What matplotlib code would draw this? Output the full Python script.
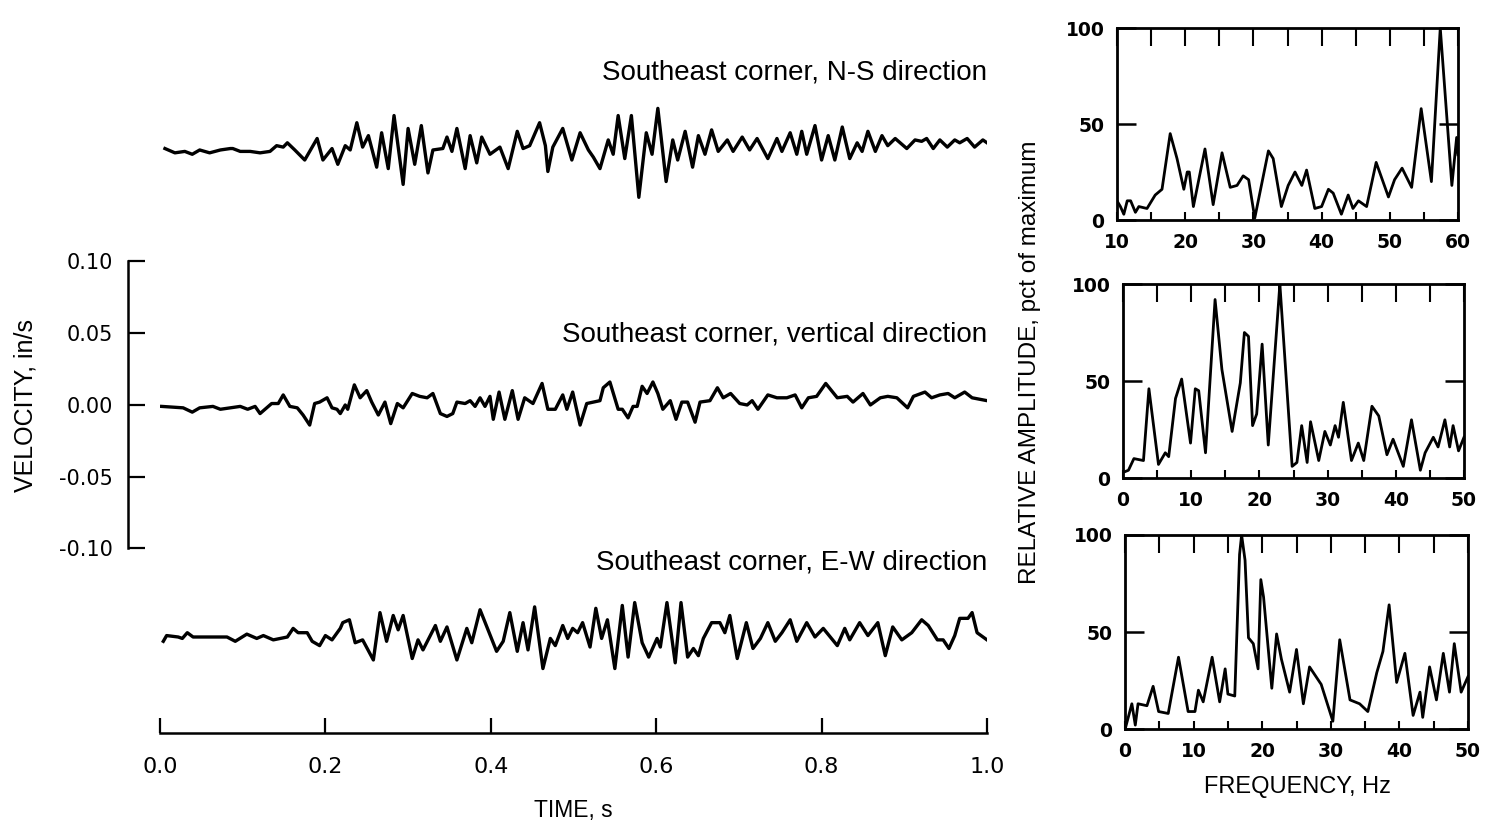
import matplotlib
matplotlib.use('Agg')
import matplotlib.pyplot as plt
import numpy as np
from matplotlib.ticker import MultipleLocator, FormatStrFormatter

plt.rcParams['font.family'] = ['Liberation Sans', 'DejaVu Sans']

# velocity records: (time s, velocity in 0.001 in/s)
ns_trace = [(0.006, 1), (0.018, -2), (0.030, -1), (0.039, -3), (0.048, 0), (0.060, -2), (0.073, 0),
            (0.085, 1), (0.088, 1), (0.097, -1), (0.109, -1), (0.121, -2), (0.133, -1), (0.141, 3),
            (0.149, 2), (0.154, 5), (0.163, 0), (0.175, -7), (0.181, -1), (0.190, 8), (0.197, -7),
            (0.208, 1), (0.215, -10), (0.224, 3), (0.230, 0), (0.238, 19), (0.245, 2), (0.252, 10),
            (0.262, -12), (0.268, 12), (0.276, -13), (0.283, 24), (0.294, -24), (0.300, 15),
            (0.308, -10), (0.316, 17), (0.324, -16), (0.330, 0), (0.342, 1), (0.347, 9), (0.353, -1),
            (0.359, 15), (0.369, -13), (0.375, 10), (0.383, -9), (0.389, 9), (0.399, -3), (0.411, 2),
            (0.421, -13), (0.432, 13), (0.439, 1), (0.447, 3), (0.459, 19), (0.466, 3), (0.469, -15),
            (0.475, 2), (0.487, 15), (0.498, -7), (0.508, 12), (0.518, 0), (0.524, -5), (0.532, -13),
            (0.542, 7), (0.548, -3), (0.554, 24), (0.562, -6), (0.570, 24), (0.579, -33), (0.588, 12),
            (0.595, -3), (0.602, 29), (0.612, -22), (0.620, 7), (0.626, -7), (0.635, 13), (0.644, -12),
            (0.651, 10), (0.659, -3), (0.667, 14), (0.675, -1), (0.686, 7), (0.693, -1), (0.704, 9),
            (0.713, 0), (0.722, 8), (0.735, -6), (0.746, 8), (0.752, -1), (0.762, 12), (0.770, -3),
            (0.776, 13), (0.782, -3), (0.792, 17), (0.800, -7), (0.808, 10), (0.816, -7), (0.825, 16),
            (0.834, -6), (0.843, 5), (0.849, -1), (0.856, 13), (0.865, -1), (0.873, 10), (0.880, 3),
            (0.889, 8), (0.903, 1), (0.913, 7), (0.921, 6), (0.927, 8), (0.935, 1), (0.943, 7),
            (0.952, 2), (0.961, 7), (0.967, 5), (0.976, 8), (0.985, 2), (0.995, 7), (1.000, 5)]

vert_trace = [(0.002, -1), (0.028, -2), (0.039, -5), (0.048, -2), (0.064, -1), (0.073, -3), (0.085, -2),
              (0.097, -1), (0.106, -3), (0.115, -1), (0.121, -6), (0.127, -3), (0.135, 1), (0.143, 1),
              (0.149, 7), (0.157, -1), (0.166, -2), (0.173, -7), (0.181, -14), (0.187, 1), (0.193, 2),
              (0.202, 5), (0.208, -2), (0.214, -3), (0.218, -6), (0.224, 0), (0.227, -3), (0.235, 14),
              (0.242, 5), (0.250, 10), (0.256, 2), (0.264, -7), (0.272, 2), (0.279, -13), (0.287, 1),
              (0.294, -2), (0.305, 8), (0.314, 6), (0.323, 5), (0.330, 8), (0.339, -6), (0.347, -8),
              (0.354, -6), (0.359, 2), (0.369, 1), (0.375, 3), (0.381, -1), (0.387, 5), (0.393, -1),
              (0.399, 6), (0.403, -10), (0.410, 9), (0.417, -10), (0.426, 10), (0.433, -10), (0.441, 5),
              (0.451, 1), (0.462, 15), (0.469, -3), (0.478, -3), (0.487, 7), (0.492, -3), (0.499, 9),
              (0.508, -14), (0.516, 1), (0.524, 2), (0.532, 3), (0.536, 12), (0.544, 16), (0.554, -3),
              (0.559, -3), (0.566, -9), (0.572, -1), (0.577, -1), (0.583, 13), (0.589, 8), (0.596, 16),
              (0.602, 8), (0.608, -3), (0.617, 3), (0.624, -10), (0.631, 2), (0.638, 2), (0.647, -12),
              (0.653, 2), (0.665, 3), (0.674, 12), (0.681, 5), (0.690, 8), (0.701, 1), (0.710, 0),
              (0.716, 3), (0.723, -3), (0.735, 7), (0.746, 5), (0.758, 5), (0.768, 7), (0.776, -2),
              (0.784, 5), (0.794, 6), (0.805, 15), (0.819, 5), (0.831, 6), (0.838, 2), (0.850, 8),
              (0.859, 0), (0.871, 5), (0.880, 6), (0.891, 5), (0.904, -2), (0.911, 6), (0.925, 9),
              (0.933, 5), (0.943, 7), (0.953, 8), (0.961, 5), (0.973, 9), (0.982, 5), (1.000, 3)]

ew_trace = [(0.004, -3), (0.008, 1), (0.022, 0), (0.027, -1), (0.033, 3), (0.040, 0), (0.052, 0),
            (0.081, 0), (0.091, -3), (0.105, 2), (0.117, -1), (0.125, 1), (0.137, -2), (0.154, 0),
            (0.161, 6), (0.167, 3), (0.178, 3), (0.184, -3), (0.193, -6), (0.200, 1), (0.208, -2),
            (0.218, 6), (0.221, 10), (0.229, 12), (0.236, -4), (0.245, -2), (0.258, -16), (0.266, 17),
            (0.274, -3), (0.282, 15), (0.288, 5), (0.294, 15), (0.305, -15), (0.312, -2), (0.318, -9),
            (0.333, 8), (0.339, -3), (0.347, 7), (0.359, -16), (0.371, 6), (0.377, -4), (0.387, 19),
            (0.407, -10), (0.415, -3), (0.423, 17), (0.432, -10), (0.439, 10), (0.445, -9), (0.453, 21),
            (0.463, -22), (0.472, -1), (0.478, -6), (0.487, 8), (0.493, -1), (0.499, 6), (0.505, 3),
            (0.511, 10), (0.520, -7), (0.527, 20), (0.534, -1), (0.541, 12), (0.550, -22), (0.559, 22),
            (0.566, -14), (0.574, 24), (0.583, -4), (0.591, -14), (0.601, -1), (0.605, -7), (0.613, 24),
            (0.623, -18), (0.630, 24), (0.638, -14), (0.645, -8), (0.651, -13), (0.657, -1), (0.667, 10),
            (0.677, 10), (0.683, 3), (0.689, 15), (0.698, -15), (0.709, 10), (0.717, -8), (0.726, -1),
            (0.735, 10), (0.744, -3), (0.752, 3), (0.762, 12), (0.770, -3), (0.782, 10), (0.792, 0),
            (0.802, 6), (0.819, -6), (0.828, 6), (0.834, -2), (0.846, 10), (0.856, 1), (0.868, 10),
            (0.877, -13), (0.886, 7), (0.897, -2), (0.909, 3), (0.921, 12), (0.929, 8), (0.940, -2),
            (0.947, -2), (0.954, -8), (0.961, 1), (0.967, 13), (0.977, 13), (0.982, 17), (0.988, 3),
            (1.000, -2)]

# Fourier spectra: (frequency Hz, relative amplitude %)
ns_spec = [(10, 10), (10.5, 7), (11, 3), (11.5, 10), (12, 10), (12.7, 4), (13.2, 7), (14.4, 6), (15.6, 13),
           (16.6, 16), (17.8, 45), (18.8, 32), (19.8, 16), (20.3, 25), (20.6, 25), (21.2, 7), (22.9, 37),
           (24.1, 8), (25.4, 35), (26.6, 17), (27.6, 18), (28.5, 23), (29.3, 21), (30.2, 1), (32.2, 36),
           (32.9, 32), (34.1, 7), (35.1, 18), (36.1, 25), (37.1, 18), (37.8, 26), (39, 6), (40, 7),
           (41, 16), (41.7, 14), (42.9, 3), (43.9, 13), (44.6, 6), (45.4, 10), (46.6, 7), (48, 30),
           (49.8, 12), (50.7, 21), (51.8, 27), (53.2, 17), (54.6, 58), (56.1, 20), (57.4, 100),
           (59.1, 18), (59.8, 43), (60, 34)]

vert_spec = [(0.1, 3), (0.8, 4), (1.6, 10), (3.0, 9), (3.8, 46), (5.2, 7), (6.2, 13), (6.7, 11), (7.7, 41),
             (8.6, 51), (9.9, 18), (10.6, 46), (11.1, 45), (12.1, 13), (13.5, 92), (14.5, 56), (16, 24),
             (17.2, 49), (17.8, 75), (18.4, 73), (19, 27), (19.6, 33), (20.4, 69), (21.3, 17), (22.8, 90),
             (23.0, 100), (24.8, 6), (25.5, 8), (26.2, 27), (27, 8), (27.5, 29), (28.7, 9), (29.6, 24),
             (30.4, 17), (31.1, 27), (31.6, 21), (32.3, 39), (33.5, 9), (34.5, 18), (35.3, 9), (36.5, 37),
             (37.5, 32), (38.7, 12), (39.6, 20), (41.1, 6), (42.3, 30), (43.6, 4), (44.3, 13), (45.5, 21),
             (46.2, 16), (47.2, 30), (47.9, 16), (48.4, 27), (49.2, 14), (50, 21)]

ew_spec = [(0.1, 1), (1.0, 13), (1.5, 2), (1.9, 13), (3.2, 12), (4.1, 22), (4.9, 9), (6.3, 8), (7.8, 37),
           (9.2, 9), (10.2, 9), (10.7, 20), (11.4, 14), (12.7, 37), (13.8, 14), (14.6, 31), (15, 18),
           (16, 17), (16.7, 90), (17.0, 100), (17.5, 87), (18, 47), (18.7, 44), (19.4, 31), (19.8, 77),
           (20.2, 68), (21.4, 21), (22.1, 49), (22.8, 36), (24, 19), (25, 41), (26, 13), (26.9, 32),
           (28.6, 23), (30.3, 4), (31.3, 46), (32.8, 15), (34.2, 13), (35.4, 9), (36.7, 29), (37.6, 40),
           (38.5, 64), (39.6, 24), (40.8, 39), (42, 7), (43, 19), (43.4, 6), (44.4, 32), (45.4, 15),
           (46.4, 39), (47.3, 19), (48, 44), (49, 19), (50, 27)]

trace_labels = ['Southeast corner, N-S direction',
                'Southeast corner, vertical direction',
                'Southeast corner, E-W direction']

W, H = 1486, 821
fig = plt.figure(figsize=(W / 100, H / 100), dpi=100)

# ---- time histories ----
ylo, yhi = -0.2286, 0.2404
ax = fig.add_axes([160 / W, 1 - 733 / H, 827 / W, 673 / H])
ax.set_xlim(0, 1)
ax.set_ylim(ylo, yhi)
offsets = [0.1777, 0.0, -0.1617]
label_y = [0.2314, 0.0488, -0.1101]
for trace, off, lab, ly in zip([ns_trace, vert_trace, ew_trace], offsets, trace_labels, label_y):
    t = [p[0] for p in trace]
    v = [off + p[1] / 1000 for p in trace]
    ax.plot(t, v, color='black', lw=2.4, solid_joinstyle='round')
    ax.text(1.0, ly, lab, ha='right', va='center', fontsize=20)

for s in ['top', 'right', 'left']:
    ax.spines[s].set_visible(False)
ax.spines['bottom'].set_linewidth(1.8)
ax.set_xticks(np.arange(0, 1.01, 0.2))
ax.xaxis.set_major_formatter(FormatStrFormatter('%.1f'))
ax.set_yticks([])
ax.tick_params(axis='x', direction='in', length=11, width=1.6, pad=17)
for lbl in ax.get_xticklabels():
    lbl.set_family('DejaVu Sans')
    lbl.set_fontsize(16)
fig.text(573 / W, 1 - 810 / H, 'TIME, s', ha='center', va='center', fontsize=16.5)

# velocity scale bar
sax = fig.add_axes([128 / W, 1 - 733 / H, 30 / W, 673 / H])
sax.set_ylim(ylo, yhi)
sax.patch.set_visible(False)
for s in ['top', 'right', 'bottom']:
    sax.spines[s].set_visible(False)
sax.spines['left'].set_bounds(-0.1, 0.1)
sax.spines['left'].set_linewidth(1.8)
sax.set_xticks([])
sax.set_yticks([-0.10, -0.05, 0.0, 0.05, 0.10])
sax.yaxis.set_major_formatter(FormatStrFormatter('%.2f'))
sax.tick_params(axis='y', direction='in', length=12, width=1.6, pad=11)
for lbl in sax.get_yticklabels():
    lbl.set_family('DejaVu Sans')
    lbl.set_fontsize(15)
fig.text(26 / W, 1 - 405 / H, 'VELOCITY, in/s', rotation=90, ha='center', va='center', fontsize=18)

# ---- spectra ----
panels = [
    ([1117, 28, 1458, 220], ns_spec, (10, 60)),
    ([1123, 284, 1464, 478], vert_spec, (0, 50)),
    ([1125, 535, 1468, 729], ew_spec, (0, 50)),
]
for (x0, y0, x1, y1), spec, (f0, f1) in panels:
    sp = fig.add_axes([x0 / W, 1 - y1 / H, (x1 - x0) / W, (y1 - y0) / H])
    sp.plot([p[0] for p in spec], [p[1] for p in spec], color='black', lw=2.0,
            solid_joinstyle='round')
    sp.set_xlim(f0, f1)
    sp.set_ylim(0, 100)
    for s in sp.spines.values():
        s.set_linewidth(2.0)
    sp.xaxis.set_major_locator(MultipleLocator(10))
    sp.xaxis.set_minor_locator(MultipleLocator(5))
    sp.tick_params(axis='x', which='both', direction='in', length=6, width=1.5, pad=9, top=False)
    sp.set_yticks([0, 50, 100])
    sp.tick_params(axis='y', direction='in', left=True, right=True, length=14, width=1.8, pad=9)
    top = sp.secondary_xaxis('top')
    top.set_xticks(np.arange(f0, f1 + 0.1, 5))
    top.tick_params(direction='in', length=13, width=1.5, labeltop=False)
    for lbl in sp.get_xticklabels() + sp.get_yticklabels():
        lbl.set_family('DejaVu Sans')
        lbl.set_fontsize(13.5)
        lbl.set_fontweight('bold')

fig.text(1297 / W, 1 - 787 / H, 'FREQUENCY, Hz', ha='center', va='center', fontsize=17)
fig.text(1030 / W, 1 - 362 / H, 'RELATIVE AMPLITUDE, pct of maximum', rotation=90,
         ha='center', va='center', fontsize=17.5)

fig.savefig('out.png', dpi=100)
